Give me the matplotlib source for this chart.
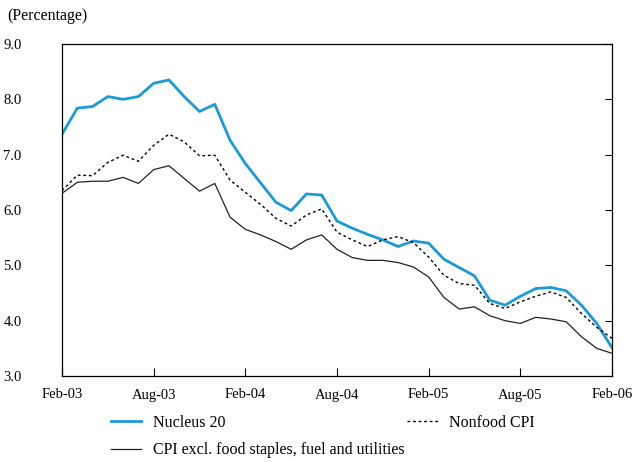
import matplotlib.pyplot as plt
import pandas as pd

plt.rcParams['font.family'] = ['Liberation Serif', 'DejaVu Serif']

months = pd.date_range('2003-02-01', '2006-02-01', freq='MS')

nucleus20 = [7.37, 7.84, 7.87, 8.05, 8.00, 8.05, 8.29, 8.35, 8.05, 7.78,
             7.91, 7.26, 6.84, 6.49, 6.14, 5.99, 6.29, 6.27, 5.80, 5.67,
             5.56, 5.46, 5.34, 5.44, 5.40, 5.11, 4.96, 4.81, 4.37, 4.28,
             4.44, 4.58, 4.60, 4.54, 4.28, 3.95, 3.51]

nonfood_cpi = [6.35, 6.63, 6.62, 6.86, 6.99, 6.88, 7.17, 7.37, 7.23, 6.98,
               6.99, 6.54, 6.32, 6.10, 5.85, 5.71, 5.91, 6.02, 5.60, 5.46,
               5.34, 5.46, 5.52, 5.41, 5.15, 4.82, 4.67, 4.64, 4.31, 4.22,
               4.34, 4.44, 4.52, 4.42, 4.13, 3.88, 3.68]

cpi_excl = [6.30, 6.50, 6.52, 6.52, 6.59, 6.48, 6.73, 6.80, 6.57, 6.34,
            6.48, 5.87, 5.65, 5.55, 5.43, 5.29, 5.46, 5.55, 5.29, 5.14,
            5.09, 5.09, 5.05, 4.97, 4.79, 4.42, 4.21, 4.25, 4.09, 4.00,
            3.95, 4.06, 4.03, 3.98, 3.71, 3.50, 3.41]

yticks = [3.0, 4.0, 5.0, 6.0, 7.0, 8.0, 9.0]
xtick_labels = ['Feb-03', 'Aug-03', 'Feb-04', 'Aug-04', 'Feb-05', 'Aug-05', 'Feb-06']

fig = plt.figure(figsize=(6.35, 4.62), dpi=100)
ax = fig.add_axes([62 / 635, 1 - 376 / 462, 550 / 635, 332 / 462])

x = list(range(len(months)))
l1, = ax.plot(x, nucleus20, color='#1a9ad6', lw=2.0, label='Nucleus 20')
l2, = ax.plot(x, nonfood_cpi, color='black', lw=1.0, ls=(0, (2, 2)), label='Nonfood CPI')
l3, = ax.plot(x, cpi_excl, color='#222222', lw=0.9,
              label='CPI excl. food staples, fuel and utilities')

ax.set_xlim(0, len(months) - 1)
ax.set_ylim(3.0, 9.0)
ax.set_yticks(yticks)
ax.set_yticklabels(['%.1f' % v for v in yticks])
ax.set_xticks(range(0, len(months), 6))
ax.set_xticklabels(xtick_labels)

for s in ax.spines.values():
    s.set_linewidth(0.9)
ax.tick_params(axis='x', direction='in', length=6, width=0.8, pad=9, labelsize=10.5)
ax.tick_params(axis='y', which='both', left=False, right=True, direction='in',
               length=5, width=0.8, pad=29, labelsize=10.5)
ax.tick_params(axis='y', labelright=False)

fig.text(7 / 635, 1 - 16 / 462, '(Percentage)', fontsize=11.5, va='center', ha='left')

fig.legend(handles=[l1, l3, l2], ncol=2, frameon=False, loc='upper left',
           bbox_to_anchor=(111 / 635, 1 - 415 / 462), fontsize=11.5,
           handlelength=1.9, handletextpad=0.7, columnspacing=0.2,
           labelspacing=0.7, borderpad=0, borderaxespad=0)

fig.savefig('out.png', dpi=100)
